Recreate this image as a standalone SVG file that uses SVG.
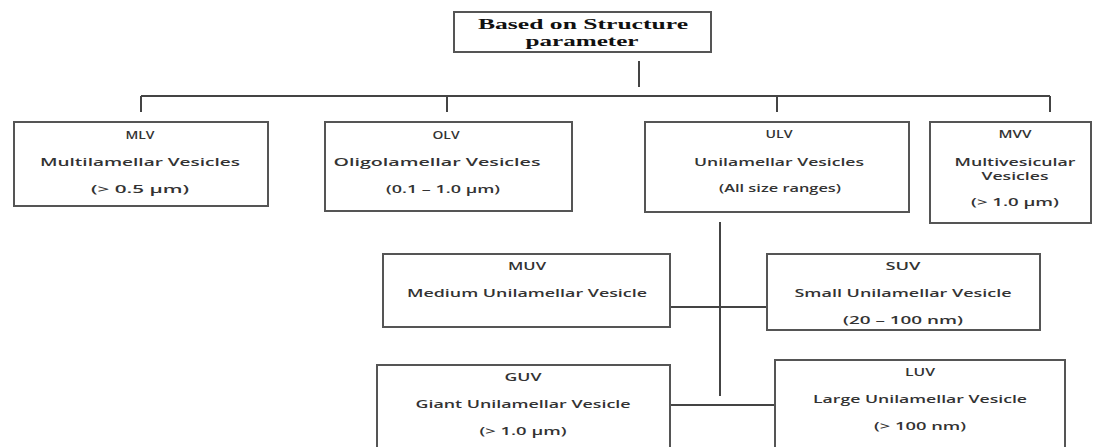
<svg xmlns="http://www.w3.org/2000/svg" width="1094" height="447" viewBox="0 0 1094 447">
<style>
.box{fill:#fff;stroke:#555;stroke-width:2}
.con{stroke:#444;stroke-width:2;fill:none}
.t{font-family:"Open Sans","Liberation Sans",sans-serif;font-size:11px;font-weight:600;fill:#333;text-anchor:middle}
.h{font-family:"Liberation Serif",serif;font-size:14px;font-weight:bold;fill:#111;text-anchor:middle}
</style>
<rect width="1094" height="447" fill="#fff"/>
<g id="connectors">
<line class="con" x1="639" y1="61" x2="639" y2="87"/>
<line class="con" x1="141" y1="96" x2="1050" y2="96"/>
<line class="con" x1="141" y1="96" x2="141" y2="112"/>
<line class="con" x1="447" y1="96" x2="447" y2="112"/>
<line class="con" x1="777" y1="96" x2="777" y2="112"/>
<line class="con" x1="1050" y1="96" x2="1050" y2="112"/>
<line class="con" x1="720" y1="222" x2="720" y2="396"/>
<line class="con" x1="670" y1="307" x2="767" y2="307"/>
<line class="con" x1="670" y1="405" x2="775" y2="405"/>
</g>
<g id="root">
<rect class="box" x="454" y="12" width="257" height="40"/>
<text class="h" x="583" y="29" textLength="210" lengthAdjust="spacingAndGlyphs">Based on Structure</text>
<text class="h" x="582" y="46" textLength="113" lengthAdjust="spacingAndGlyphs">parameter</text>
</g>
<g id="mlv">
<rect class="box" x="14" y="122" width="254" height="84"/>
<text class="t" x="140" y="139" textLength="29" lengthAdjust="spacingAndGlyphs">MLV</text>
<text class="t" x="140" y="166" textLength="200" lengthAdjust="spacingAndGlyphs">Multilamellar Vesicles</text>
<text class="t" x="140" y="193" textLength="98" lengthAdjust="spacingAndGlyphs">(&gt; 0.5 µm)</text>
</g>
<g id="olv">
<rect class="box" x="325" y="122" width="247" height="89"/>
<text class="t" x="446" y="139" textLength="27" lengthAdjust="spacingAndGlyphs">OLV</text>
<text class="t" x="437" y="166" textLength="207" lengthAdjust="spacingAndGlyphs">Oligolamellar Vesicles</text>
<text class="t" x="443" y="193" textLength="114" lengthAdjust="spacingAndGlyphs">(0.1 – 1.0 µm)</text>
</g>
<g id="ulv">
<rect class="box" x="645" y="122" width="264" height="90"/>
<text class="t" x="779" y="138" textLength="27" lengthAdjust="spacingAndGlyphs">ULV</text>
<text class="t" x="779" y="166" textLength="170" lengthAdjust="spacingAndGlyphs">Unilamellar Vesicles</text>
<text class="t" x="780" y="192" textLength="122" lengthAdjust="spacingAndGlyphs">(All size ranges)</text>
</g>
<g id="mvv">
<rect class="box" x="930" y="122" width="161" height="101"/>
<text class="t" x="1015" y="138" textLength="33" lengthAdjust="spacingAndGlyphs">MVV</text>
<text class="t" x="1015" y="166" textLength="121" lengthAdjust="spacingAndGlyphs">Multivesicular</text>
<text class="t" x="1015" y="180" textLength="67" lengthAdjust="spacingAndGlyphs">Vesicles</text>
<text class="t" x="1015" y="206" textLength="88" lengthAdjust="spacingAndGlyphs">(&gt; 1.0 µm)</text>
</g>
<g id="muv">
<rect class="box" x="383" y="254" width="287" height="73"/>
<text class="t" x="527" y="270" textLength="38" lengthAdjust="spacingAndGlyphs">MUV</text>
<text class="t" x="527" y="297" textLength="240" lengthAdjust="spacingAndGlyphs">Medium Unilamellar Vesicle</text>
</g>
<g id="suv">
<rect class="box" x="767" y="254" width="273" height="76"/>
<text class="t" x="903" y="270" textLength="35" lengthAdjust="spacingAndGlyphs">SUV</text>
<text class="t" x="903" y="297" textLength="217" lengthAdjust="spacingAndGlyphs">Small Unilamellar Vesicle</text>
<text class="t" x="903" y="324" textLength="120" lengthAdjust="spacingAndGlyphs">(20 – 100 nm)</text>
</g>
<g id="guv">
<rect class="box" x="377" y="365" width="293" height="95"/>
<text class="t" x="523" y="381" textLength="37" lengthAdjust="spacingAndGlyphs">GUV</text>
<text class="t" x="523" y="408" textLength="215" lengthAdjust="spacingAndGlyphs">Giant Unilamellar Vesicle</text>
<text class="t" x="523" y="435" textLength="87" lengthAdjust="spacingAndGlyphs">(&gt; 1.0 µm)</text>
</g>
<g id="luv">
<rect class="box" x="775" y="360" width="290" height="100"/>
<text class="t" x="920" y="376" textLength="30" lengthAdjust="spacingAndGlyphs">LUV</text>
<text class="t" x="920" y="403" textLength="214" lengthAdjust="spacingAndGlyphs">Large Unilamellar Vesicle</text>
<text class="t" x="920" y="430" textLength="92" lengthAdjust="spacingAndGlyphs">(&gt; 100 nm)</text>
</g>
</svg>
